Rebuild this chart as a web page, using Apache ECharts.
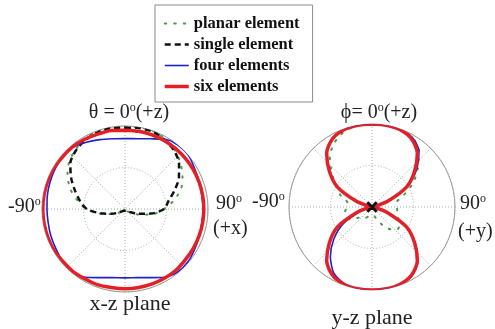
<!DOCTYPE html>
<html>
<head>
<meta charset="utf-8">
<script src="https://cdn.jsdelivr.net/npm/echarts@6/dist/echarts.min.js"></script>
<style>
  html, body { margin: 0; padding: 0; background: #fff; }
  #chart { width: 495px; height: 329px; }
</style>
</head>
<body>
<div id="chart"></div>
<script>
// Angles (degrees, clockwise from +z at the top), 10 degree steps
const angles = [0, 10, 20, 30, 40, 50, 60, 70, 80, 90, 100, 110, 120, 130, 140, 150, 160, 170, 180,
  190, 200, 210, 220, 230, 240, 250, 260, 270, 280, 290, 300, 310, 320, 330, 340, 350, 360];

// x-z plane (normalized pattern)
const xzPlanar = [0.99, 1.0, 1.0, 0.97, 0.93, 0.87, 0.80, 0.72, 0.60, 0.47, 0.35, 0.20, 0.10, 0.05, 0.04, 0.04, 0.04, 0.04, 0.04,
  0.04, 0.04, 0.04, 0.04, 0.05, 0.09, 0.18, 0.31, 0.47, 0.58, 0.70, 0.80, 0.88, 0.93, 0.97, 1.0, 1.0, 0.99];
const xzSingle = [0.98, 0.99, 0.99, 0.96, 0.92, 0.85, 0.75, 0.63, 0.53, 0.47, 0.32, 0.17, 0.08, 0.04, 0.02, 0.02, 0.02, 0.02, 0.02,
  0.02, 0.02, 0.02, 0.02, 0.04, 0.08, 0.17, 0.30, 0.46, 0.55, 0.64, 0.75, 0.86, 0.92, 0.96, 0.98, 0.99, 0.98];
const xzFour = [0.85, 0.86, 0.90, 0.97, 1.0, 1.0, 0.97, 0.95, 0.94, 0.94, 0.94, 0.95, 0.97, 0.99, 0.99, 0.95, 0.88, 0.84, 0.83,
  0.84, 0.88, 0.95, 0.98, 0.98, 0.96, 0.95, 0.94, 0.94, 0.95, 0.96, 0.97, 0.98, 0.97, 0.93, 0.89, 0.86, 0.85];
const xzSix = [0.95, 0.95, 0.95, 0.95, 0.95, 0.95, 0.95, 0.95, 0.95, 0.95, 0.95, 0.95, 0.95, 0.95, 0.96, 0.96, 0.96, 0.96, 0.96,
  0.96, 0.97, 0.97, 0.98, 0.98, 0.99, 0.99, 0.99, 0.99, 0.99, 0.99, 0.99, 0.98, 0.98, 0.97, 0.96, 0.96, 0.95];

// y-z plane (normalized pattern)
const yzPlanar = [1.0, 1.0, 0.99, 0.97, 0.88, 0.72, 0.57, 0.40, 0.30, 0.30, 0.31, 0.33, 0.38, 0.41, 0.35, 0.25, 0.15, 0.10, 0.10,
  0.10, 0.12, 0.15, 0.18, 0.20, 0.30, 0.33, 0.33, 0.30, 0.30, 0.40, 0.50, 0.63, 0.79, 0.90, 0.97, 1.0, 1.0];
const yzFour = [1.0, 1.0, 0.99, 0.97, 0.88, 0.70, 0.50, 0.22, 0.05, 0.0, 0.04, 0.20, 0.48, 0.68, 0.86, 0.96, 0.99, 1.0, 1.0,
  1.0, 0.98, 0.92, 0.78, 0.60, 0.40, 0.15, 0.03, 0.0, 0.04, 0.20, 0.48, 0.67, 0.85, 0.95, 0.99, 1.0, 1.0];
const yzSix = [1.0, 1.0, 0.99, 0.95, 0.85, 0.67, 0.48, 0.20, 0.04, 0.0, 0.04, 0.20, 0.48, 0.67, 0.85, 0.95, 0.99, 1.0, 1.0,
  1.0, 0.99, 0.95, 0.85, 0.67, 0.48, 0.20, 0.04, 0.0, 0.04, 0.20, 0.48, 0.67, 0.85, 0.95, 0.99, 1.0, 1.0];
// single element in y-z plane is just a tiny cross at the origin
const yzSingleAngles = [0, 45, 90, 135, 180, 225, 270, 315, 360];
const yzSingle = [0, 0.08, 0, 0.08, 0, 0.08, 0, 0.08, 0];

const names = ['planar element', 'single element', 'four elements', 'six elements'];

function pairs(vals, angs) {
  return vals.map((r, i) => [r, (angs || angles)[i]]);
}

const gridGrey = '#9a9a9a';
const serif = '"Liberation Serif", "DejaVu Serif", serif';

function polarAxes(idx) {
  return {
    angle: {
      polarIndex: idx, type: 'value', min: 0, max: 360, interval: 45,
      startAngle: 90, clockwise: true,
      axisLine: { lineStyle: { color: gridGrey, width: 1 } },
      axisTick: { show: false }, axisLabel: { show: false },
      splitLine: { lineStyle: { color: '#aaa', type: [1, 2], width: 1 } }
    },
    radius: {
      polarIndex: idx, type: 'value', min: 0, max: 1, interval: 0.5,
      axisLine: { show: false }, axisTick: { show: false }, axisLabel: { show: false },
      splitLine: { lineStyle: { color: '#aaa', type: [1, 2], width: 1 } }
    }
  };
}
const ax0 = polarAxes(0);
const ax1 = polarAxes(1);

const styles = {
  'planar element': { color: '#4a9a4a', width: 2, type: [1.5, 8], cap: 'round' },
  'single element': { color: '#111', width: 2.5, type: [6, 4] },
  'four elements': { color: '#1f22c8', width: 1.6, type: 'solid' },
  'six elements': { color: '#e41f26', width: 3.5, type: 'solid' }
};

function mkSeries(name, polarIndex, data, override) {
  const ls = Object.assign({}, styles[name], override || {});
  return {
    name: name, type: 'line', coordinateSystem: 'polar', polarIndex: polarIndex,
    data: data, showSymbol: false, symbol: 'none', smooth: 0.25, silent: true,
    itemStyle: { color: ls.color },
    lineStyle: ls, animation: false
  };
}

const series = [
  mkSeries('planar element', 0, pairs(xzPlanar)),
  mkSeries('single element', 0, pairs(xzSingle)),
  mkSeries('four elements', 0, pairs(xzFour)),
  mkSeries('six elements', 0, pairs(xzSix)),
  mkSeries('planar element', 1, pairs(yzPlanar)),
  mkSeries('four elements', 1, pairs(yzFour)),
  mkSeries('six elements', 1, pairs(yzSix)),
  Object.assign(mkSeries('single element', 1, pairs(yzSingle, yzSingleAngles), { type: 'solid', width: 3 }), { smooth: false, z: 5 })
];

const sup = { fontSize: 12, fontFamily: serif, verticalAlign: 'top', lineHeight: 12, fill: '#222' };
function label(text, x, y, size, align) {
  return {
    type: 'text', x: x, y: y, silent: true,
    style: {
      text: text, fontSize: size || 20, fontFamily: serif, fill: '#222',
      align: align || 'center', verticalAlign: 'middle', lineHeight: 22,
      rich: { s: sup, t: { fontSize: size || 20, fontFamily: serif, lineHeight: 22, fill: '#222' } }
    }
  };
}

const chart = echarts.init(document.getElementById('chart'), null, { renderer: 'canvas' });
chart.setOption({
  backgroundColor: '#fff',
  animation: false,
  legend: {
    data: names, orient: 'vertical', left: 155, top: 5,
    padding: [10, 13, 7, 8], itemGap: 4, itemWidth: 24, itemHeight: 14,
    borderColor: '#8a8a8a', borderWidth: 1, selectedMode: false,
    itemStyle: { opacity: 0 },
    lineStyle: { width: 'inherit' },
    textStyle: { fontFamily: serif, fontWeight: 'bold', fontSize: 16.5, color: '#111' }
  },
  polar: [
    { center: [125, 209], radius: 83 },
    { center: [372, 207], radius: 83 }
  ],
  angleAxis: [ax0.angle, ax1.angle],
  radiusAxis: [ax0.radius, ax1.radius],
  series: series,
  graphic: [
    label('{t|\u03b8 = 0}{s|o}{t|(+z)}', 129, 113),
    label('{t|-90}{s|o}', 8, 207, 20, 'left'),
    label('{t|90}{s|o}', 216, 204, 20, 'left'),
    label('(+x)', 213, 229, 20, 'left'),
    label('{t|x-z plane}', 130, 304, 22),
    label('{t|\u03d5= 0}{s|o}{t|(+z)}', 379, 113),
    label('{t|-90}{s|o}', 252, 202, 20, 'left'),
    label('{t|90}{s|o}', 460, 204, 20, 'left'),
    label('(+y)', 458, 232, 20, 'left'),
    label('{t|y-z plane}', 372, 318, 22)
  ]
});
</script>
</body>
</html>
